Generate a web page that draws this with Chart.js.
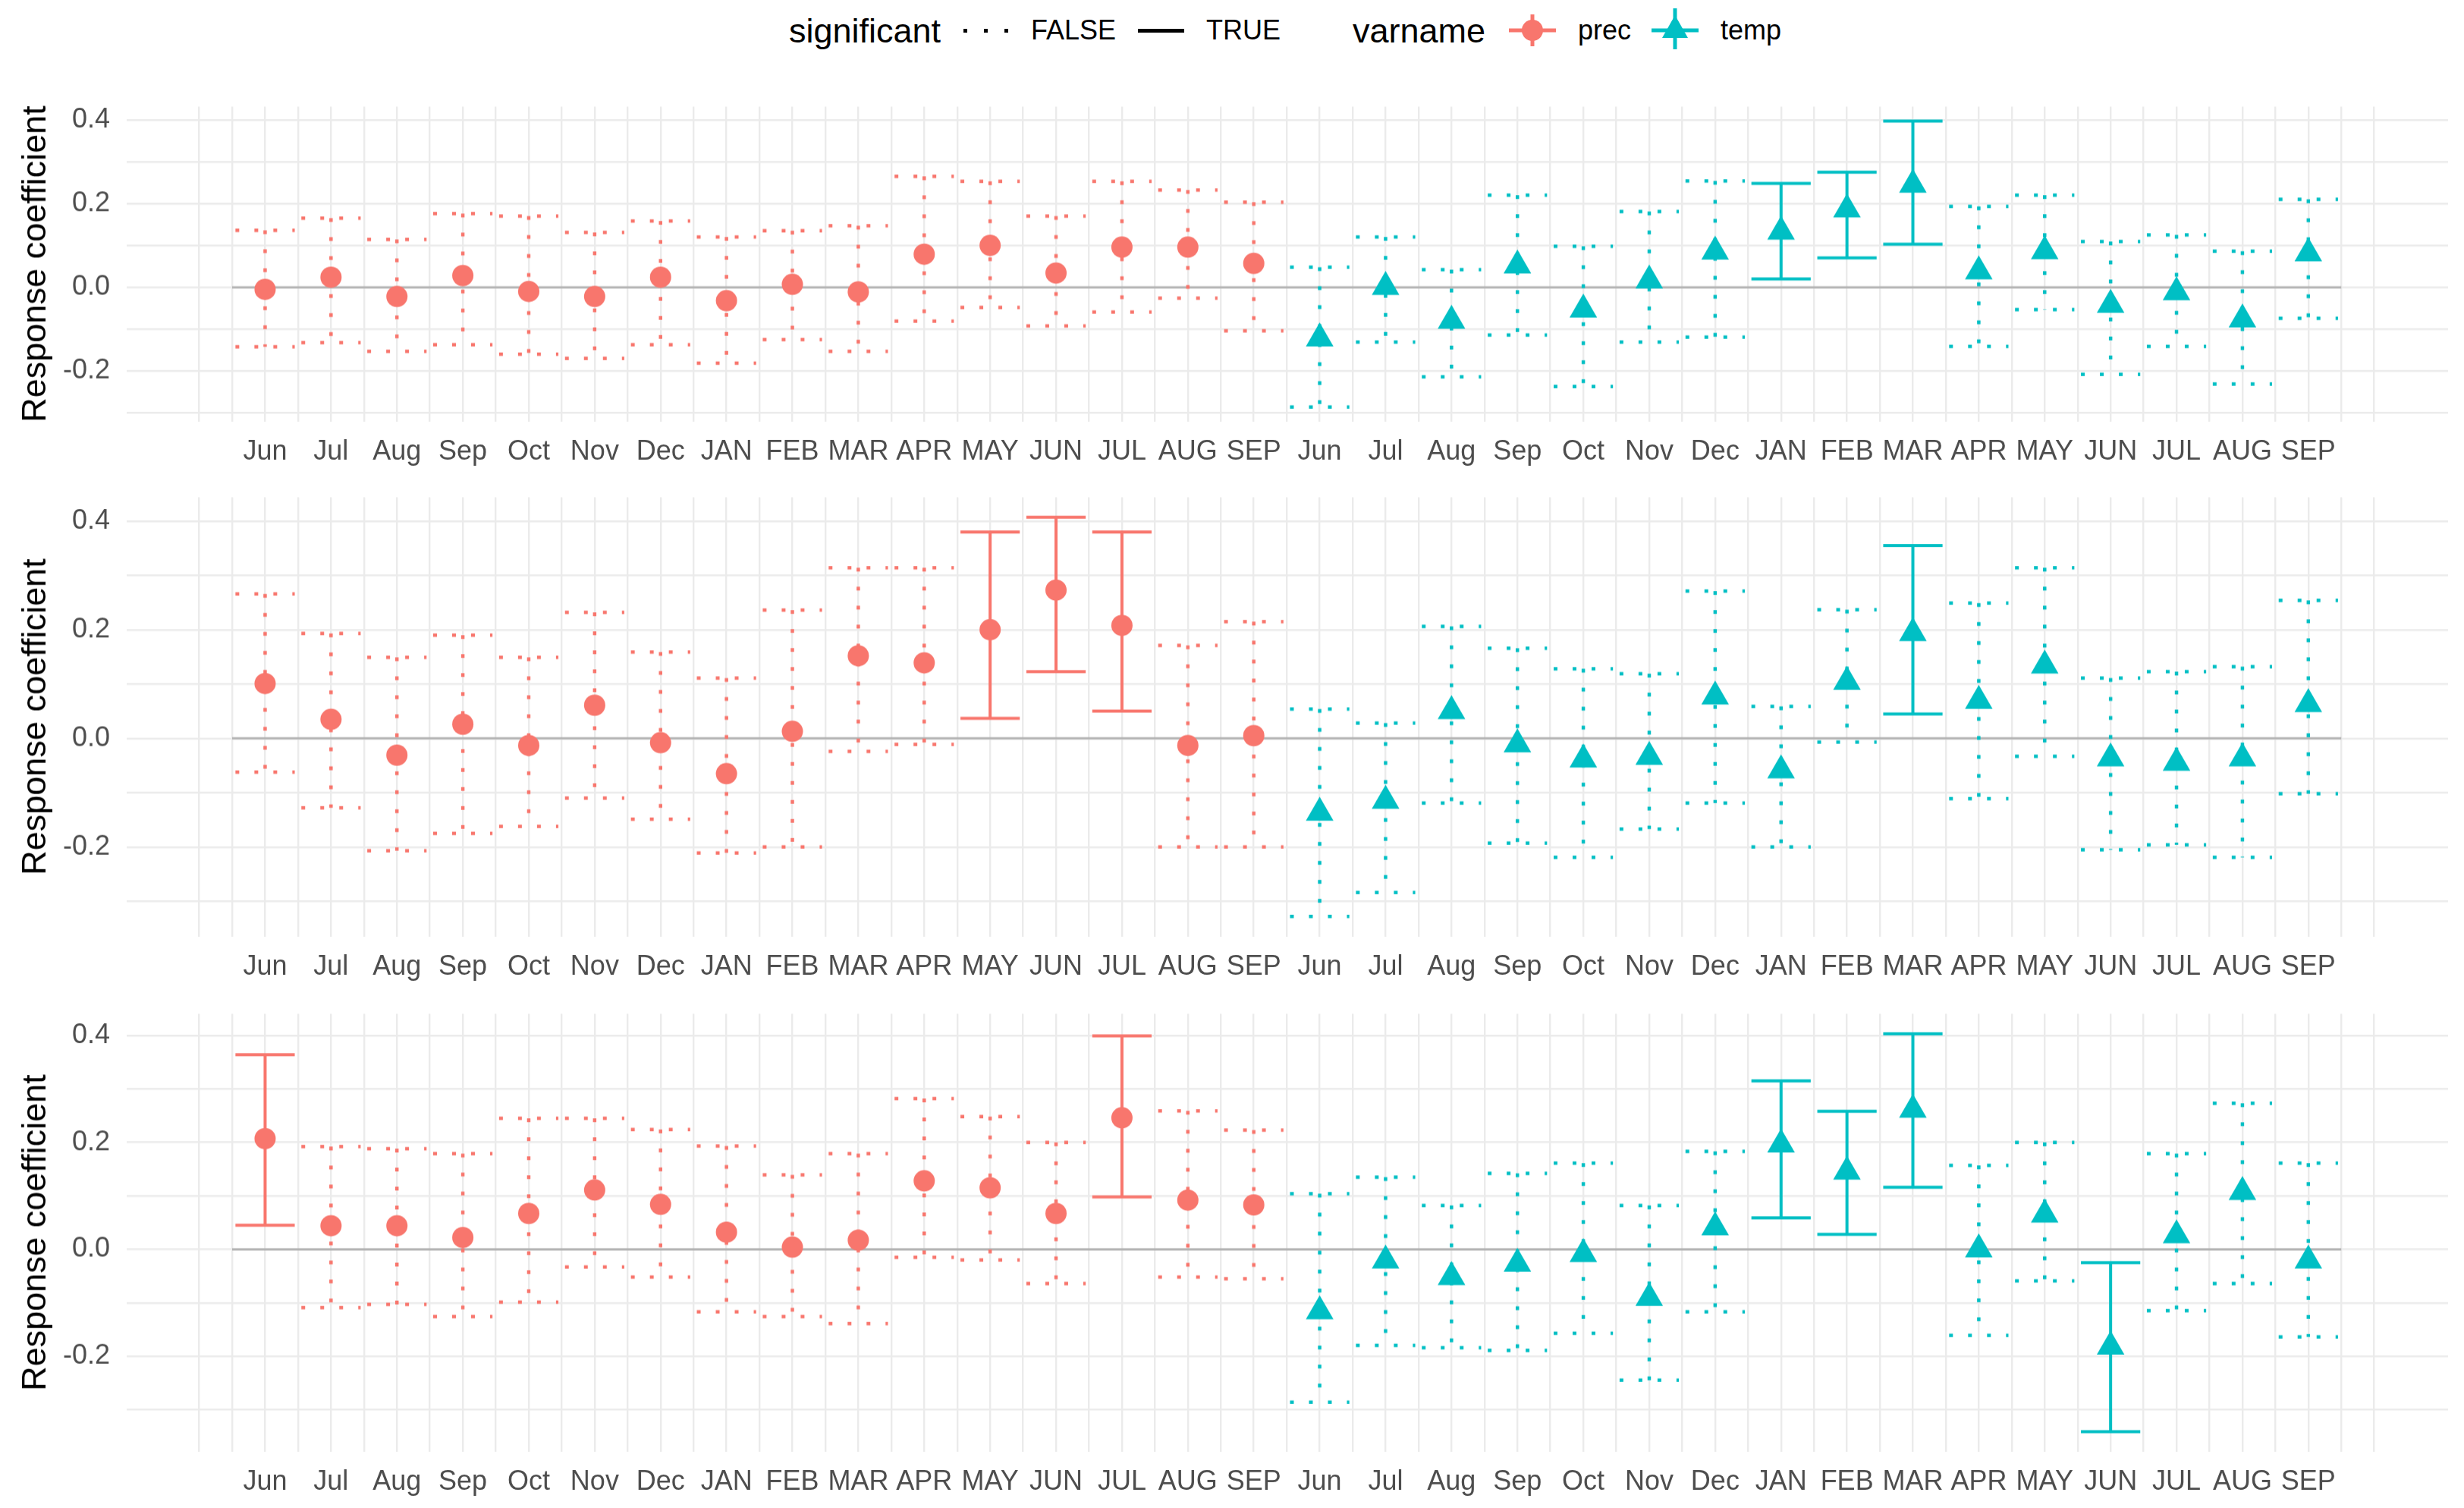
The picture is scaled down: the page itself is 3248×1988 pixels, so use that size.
<!DOCTYPE html>
<html>
<head>
<meta charset="utf-8">
<script src="https://cdn.jsdelivr.net/npm/chart.js@4.4.1/dist/chart.umd.min.js"></script>
<style>
  html, body { margin: 0; padding: 0; background: #fff; }
  body { width: 3248px; height: 1988px; position: relative; overflow: hidden;
         font-family: 'Liberation Sans', Arial, sans-serif; }
  .panel { position: absolute; left: 0; width: 3248px; height: 700px; }
  .lg { position: absolute; top: 40px; transform: translateY(-50%); line-height: 1; color: #000; white-space: nowrap; }
  .lg.title { font-size: 45px; }
  .lg.item { font-size: 36px; }
  .dot { position: absolute; top: 38px; width: 5px; height: 5px; background: #000; }
</style>
</head>
<body>

<div class="lg title" style="left:1040px">significant</div>
<div class="dot" style="left:1270px"></div>
<div class="dot" style="left:1297px"></div>
<div class="dot" style="left:1324px"></div>
<div class="lg item" style="left:1359px">FALSE</div>
<div style="position:absolute;left:1500px;top:38px;width:61px;height:5px;background:#000"></div>
<div class="lg item" style="left:1590px">TRUE</div>
<div class="lg title" style="left:1783px">varname</div>
<svg style="position:absolute;left:1985px;top:5px" width="70" height="70">
  <line x1="4" y1="35" x2="66" y2="35" stroke="#F8766D" stroke-width="5"/>
  <line x1="35" y1="14" x2="35" y2="56" stroke="#F8766D" stroke-width="5"/>
  <circle cx="35" cy="35" r="14" fill="#F8766D"/>
</svg>
<div class="lg item" style="left:2080px">prec</div>
<svg style="position:absolute;left:2173px;top:5px" width="70" height="70">
  <line x1="4" y1="35" x2="66" y2="35" stroke="#00BFC4" stroke-width="5"/>
  <line x1="35" y1="6" x2="35" y2="60" stroke="#00BFC4" stroke-width="5"/>
  <polygon points="35,15 52,45 18,45" fill="#00BFC4"/>
</svg>
<div class="lg item" style="left:2268px">temp</div>

<div class="panel" id="p1"><canvas id="c1"></canvas></div>
<div class="panel" id="p2"><canvas id="c2"></canvas></div>
<div class="panel" id="p3"><canvas id="c3"></canvas></div>

<script>
// DATA
const months = ['Jun', 'Jul', 'Aug', 'Sep', 'Oct', 'Nov', 'Dec', 'JAN', 'FEB', 'MAR', 'APR', 'MAY', 'JUN', 'JUL', 'AUG', 'SEP'];
const xLabels = months.concat(months);
const yGridTicks = [-0.3, -0.2, -0.1, 0.0, 0.1, 0.2, 0.3, 0.4];
const yLabelTicks = [-0.2, 0.0, 0.2, 0.4];

// panel 1
const p1PrecEst  = [-0.005, 0.024, -0.022, 0.028, -0.010, -0.022, 0.024, -0.032, 0.007, -0.011, 0.079, 0.100, 0.034, 0.096, 0.096, 0.057];
const p1PrecLow  = [-0.142, -0.132, -0.153, -0.137, -0.160, -0.170, -0.137, -0.181, -0.125, -0.153, -0.081, -0.048, -0.092, -0.059, -0.026, -0.104];
const p1PrecHigh = [0.136, 0.165, 0.114, 0.176, 0.170, 0.131, 0.158, 0.120, 0.135, 0.147, 0.265, 0.253, 0.170, 0.253, 0.232, 0.203];
const p1TempEst  = [-0.122, 0.001, -0.080, 0.052, -0.053, 0.016, 0.085, 0.133, 0.186, 0.245, 0.038, 0.086, -0.042, -0.012, -0.077, 0.081];
const p1TempLow  = [-0.286, -0.131, -0.214, -0.114, -0.237, -0.131, -0.119, 0.020, 0.070, 0.103, -0.141, -0.053, -0.208, -0.141, -0.231, -0.074];
const p1TempHigh = [0.048, 0.120, 0.042, 0.220, 0.098, 0.181, 0.254, 0.248, 0.275, 0.397, 0.193, 0.220, 0.109, 0.125, 0.086, 0.210];

// panel 2
const p2PrecEst  = [0.101, 0.035, -0.031, 0.026, -0.013, 0.061, -0.008, -0.065, 0.013, 0.152, 0.139, 0.200, 0.273, 0.208, -0.013, 0.005];
const p2PrecLow  = [-0.062, -0.128, -0.207, -0.175, -0.162, -0.110, -0.149, -0.211, -0.200, -0.024, -0.011, 0.037, 0.123, 0.050, -0.200, -0.200];
const p2PrecHigh = [0.266, 0.193, 0.149, 0.190, 0.149, 0.232, 0.159, 0.111, 0.236, 0.314, 0.314, 0.380, 0.407, 0.380, 0.171, 0.215];
const p2TempEst  = [-0.137, -0.115, 0.050, -0.011, -0.039, -0.034, 0.077, -0.059, 0.104, 0.194, 0.069, 0.134, -0.037, -0.045, -0.037, 0.063];
const p2TempLow  = [-0.328, -0.284, -0.119, -0.193, -0.219, -0.167, -0.119, -0.200, -0.007, 0.045, -0.111, -0.033, -0.205, -0.196, -0.219, -0.102];
const p2TempHigh = [0.054, 0.028, 0.206, 0.166, 0.128, 0.119, 0.271, 0.059, 0.237, 0.355, 0.249, 0.314, 0.111, 0.123, 0.132, 0.254];

// panel 3
const p3PrecEst  = [0.207, 0.044, 0.044, 0.022, 0.067, 0.111, 0.084, 0.032, 0.004, 0.017, 0.128, 0.115, 0.067, 0.246, 0.092, 0.083];
const p3PrecLow  = [0.045, -0.109, -0.103, -0.126, -0.099, -0.033, -0.052, -0.117, -0.126, -0.139, -0.015, -0.020, -0.064, 0.098, -0.052, -0.055];
const p3PrecHigh = [0.364, 0.192, 0.188, 0.179, 0.245, 0.245, 0.224, 0.193, 0.139, 0.179, 0.282, 0.248, 0.200, 0.399, 0.259, 0.223];
const p3TempEst  = [-0.116, -0.021, -0.052, -0.027, -0.009, -0.091, 0.041, 0.196, 0.145, 0.261, 0.000, 0.065, -0.182, 0.026, 0.107, -0.021];
const p3TempLow  = [-0.286, -0.180, -0.184, -0.189, -0.157, -0.245, -0.117, 0.059, 0.028, 0.116, -0.161, -0.059, -0.341, -0.115, -0.064, -0.164];
const p3TempHigh = [0.104, 0.135, 0.082, 0.142, 0.161, 0.082, 0.183, 0.315, 0.258, 0.403, 0.157, 0.200, -0.025, 0.179, 0.273, 0.161];

// STYLE / LAYOUT
const PREC = '#F8766D';
const TEMP = '#00BFC4';
const FONT = "'Liberation Sans', Arial, sans-serif";
const CAP = 0.45;
const panelTop = [141, 656, 1337];
const panelBottom = [555, 1234, 1913];

Chart.defaults.font.family = FONT;

function pointSet(est, offset, color, style, radius) {
    return {
        type: 'scatter',
        data: est.map((y, i) => ({x: offset + i + 1, y: y})),
        pointStyle: style,
        pointRadius: radius,
        pointHoverRadius: radius,
        pointBackgroundColor: color,
        pointBorderWidth: 0
    };
}

// error bars as broken line paths: top cap, stem, bottom cap
function barSet(low, high, offset, color, significant) {
    const pts = [];
    low.forEach((lo, i) => {
        const hi = high[i];
        const sig = lo > 0 || hi < 0;
        if (sig !== significant) return;
        const x = offset + i + 1;
        pts.push({x: x - CAP, y: hi}, {x: x + CAP, y: hi}, {x: x, y: null},
                 {x: x, y: hi}, {x: x, y: lo}, {x: x, y: null},
                 {x: x - CAP, y: lo}, {x: x + CAP, y: lo}, {x: x, y: null});
    });
    return {
        type: 'line',
        data: pts,
        borderColor: color,
        borderWidth: significant ? 4 : 4.5,
        borderDash: significant ? [] : [5, 20],
        borderCapStyle: 'butt',
        pointRadius: 0,
        spanGaps: false
    };
}

function buildPanel(n, precEst, precLow, precHigh, tempEst, tempLow, tempHigh) {
    const lo = Math.min(...precLow, ...tempLow);
    const hi = Math.max(...precHigh, ...tempHigh);
    const pad = (hi - lo) * 0.05;
    const box = document.getElementById('p' + n);

    const chart = new Chart(document.getElementById('c' + n), {
        type: 'scatter',
        data: {
            datasets: [
                pointSet(precEst, 0, PREC, 'circle', 14),
                pointSet(tempEst, 16, TEMP, 'triangle', 21),
                barSet(precLow, precHigh, 0, PREC, true),
                barSet(precLow, precHigh, 0, PREC, false),
                barSet(tempLow, tempHigh, 16, TEMP, true),
                barSet(tempLow, tempHigh, 16, TEMP, false),
                {
                    type: 'line',
                    data: [{x: 0.5, y: 0}, {x: 32.5, y: 0}],
                    borderColor: '#B4B4B4',
                    borderWidth: 3,
                    pointRadius: 0
                }
            ]
        },
        options: {
            responsive: true,
            maintainAspectRatio: false,
            animation: false,
            devicePixelRatio: 1,
            layout: {padding: 0},
            plugins: {legend: {display: false}, tooltip: {enabled: false}},
            scales: {
                x: {
                    type: 'linear',
                    min: -1.1,
                    max: 34.12,
                    afterBuildTicks: s => {
                        s.ticks = [];
                        for (let k = 0; k <= 66; k++) s.ticks.push({value: k / 2});
                    },
                    afterFit: s => { s.height = 90; },
                    grid: {color: '#EBEBEB', lineWidth: 2.4, drawTicks: false},
                    border: {display: false},
                    ticks: {
                        autoSkip: false,
                        maxRotation: 0,
                        minRotation: 0,
                        padding: 19,
                        color: '#4D4D4D',
                        font: {size: 36},
                        callback: v => (Number.isInteger(v) && v >= 1 && v <= 32) ? xLabels[v - 1] : ''
                    }
                },
                y: {
                    min: lo - pad,
                    max: hi + pad,
                    afterBuildTicks: s => { s.ticks = yGridTicks.map(v => ({value: v})); },
                    afterFit: s => { s.width = 167; },
                    grid: {color: '#EBEBEB', lineWidth: 2.4, drawTicks: false},
                    border: {display: false},
                    ticks: {
                        padding: 22,
                        color: '#4D4D4D',
                        font: {size: 36},
                        callback: v => yLabelTicks.includes(v) ? v.toFixed(1) : ''
                    },
                    title: {
                        display: true,
                        text: 'Response coefficient',
                        color: '#000',
                        font: {size: 45},
                        padding: {top: 21, bottom: 0}
                    }
                }
            }
        }
    });

    // line the plot area up with the reference panel
    const area = chart.chartArea;
    const below = chart.height - area.bottom;
    const top = panelTop[n - 1], bottom = panelBottom[n - 1];
    box.style.top = (top - area.top) + 'px';
    box.style.height = (bottom - top + area.top + below) + 'px';
    chart.resize();
    return chart;
}

buildPanel(1, p1PrecEst, p1PrecLow, p1PrecHigh, p1TempEst, p1TempLow, p1TempHigh);
buildPanel(2, p2PrecEst, p2PrecLow, p2PrecHigh, p2TempEst, p2TempLow, p2TempHigh);
buildPanel(3, p3PrecEst, p3PrecLow, p3PrecHigh, p3TempEst, p3TempLow, p3TempHigh);
</script>
</body>
</html>
